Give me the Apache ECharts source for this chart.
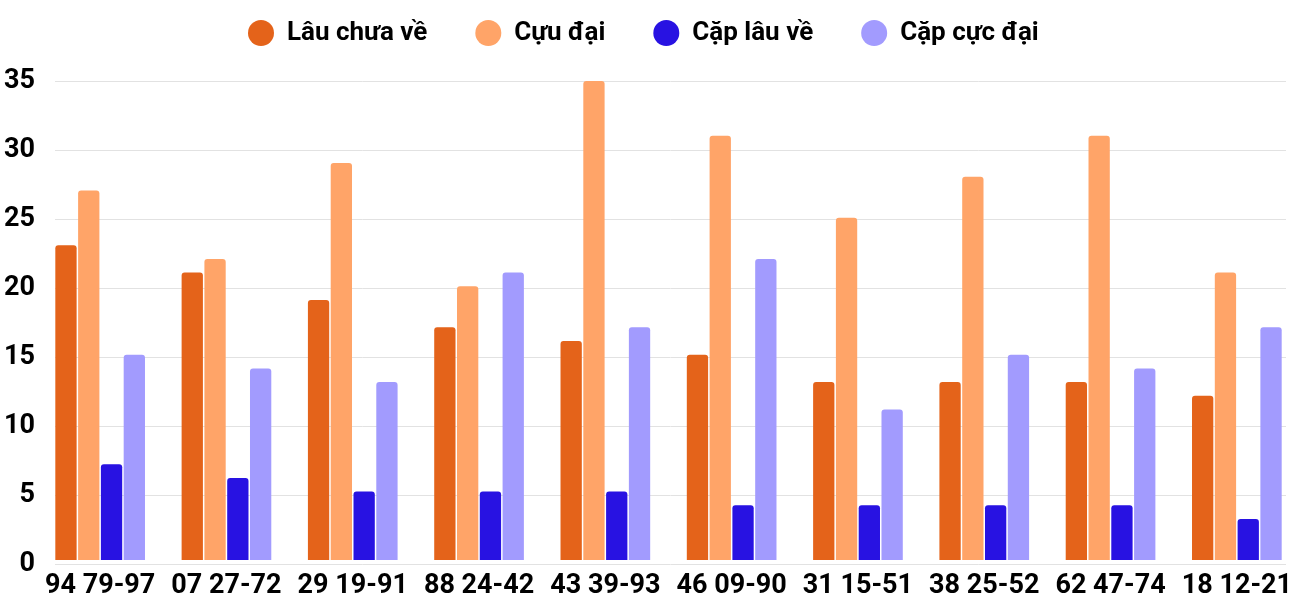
<!DOCTYPE html>
<html>
<head>
<meta charset="utf-8">
<script src="https://cdn.jsdelivr.net/npm/echarts@6/dist/echarts.min.js"></script>
<style>html,body{margin:0;padding:0;background:#fff}#c{width:1300px;height:600px}</style>
</head>
<body>
<div id="c"></div>
<script>
const categories = ["94 79-97","07 27-72","29 19-91","88 24-42","43 39-93","46 09-90","31 15-51","38 25-52","62 47-74","18 12-21"];
const seriesNames = ["Lâu chưa về","Cựu đại","Cặp lâu về","Cặp cực đại"];
const lauChuaVe = [23,21,19,17,16,15,13,13,13,12];
const cucDai = [27,22,29,20,35,31,25,28,31,21];
const capLauVe = [7,6,5,5,5,4,4,4,4,3];
const capCucDai = [15,14,13,21,17,22,11,15,14,17];
const colors = ["#E4631A","#FFA468","#2812E2","#A29BFE"];
const yMin = 0, yMax = 35, yInterval = 5;

const font = "Roboto";
const chart = echarts.init(document.getElementById('c'));
const values = [lauChuaVe, cucDai, capLauVe, capCucDai];
const series = values.map((d, i) => ({
  name: seriesNames[i],
  type: 'bar',
  xAxisIndex: 1,
  yAxisIndex: 1,
  data: d,
  barWidth: 21.3,
  barGap: '7%',
  itemStyle: { color: colors[i], borderRadius: [3,3,0,0] }
}));
chart.setOption({
  animation: false,
  color: colors,
  legend: {
    top: 15,
    left: 243,
    icon: 'circle',
    itemWidth: 26,
    itemHeight: 26,
    itemGap: 48,
    data: seriesNames,
    textStyle: { fontFamily: font, fontWeight: 'bold', fontSize: 26, color: '#000', padding: [0,0,0,8] }
  },
  grid: [
    { left: 55, right: 14, top: 81, bottom: 36 },
    { left: 37, right: -4, top: 81, bottom: 36 }
  ],
  xAxis: [
    { type: 'category', gridIndex: 0, data: categories, show: false },
    { type: 'category', gridIndex: 1, data: categories,
      axisLine: { show: false }, axisTick: { show: false },
      axisLabel: { fontFamily: font, fontWeight: 'bold', fontSize: 27, color: '#000', margin: 13, interval: 0 } }
  ],
  yAxis: [
    { type: 'value', gridIndex: 0, min: yMin, max: yMax, interval: yInterval,
      axisLine: { show: false }, axisTick: { show: false },
      axisLabel: { fontFamily: font, fontWeight: 'bold', fontSize: 27, color: '#000', margin: 20 },
      splitLine: { lineStyle: { color: '#e2e2e2', width: 1 } } },
    { type: 'value', gridIndex: 1, min: yMin, max: yMax, interval: yInterval, show: false,
      splitLine: { show: false } }
  ],
  series: series.concat([{ type: 'bar', xAxisIndex: 0, yAxisIndex: 0, data: [], silent: true }])
});
</script>
</body>
</html>
